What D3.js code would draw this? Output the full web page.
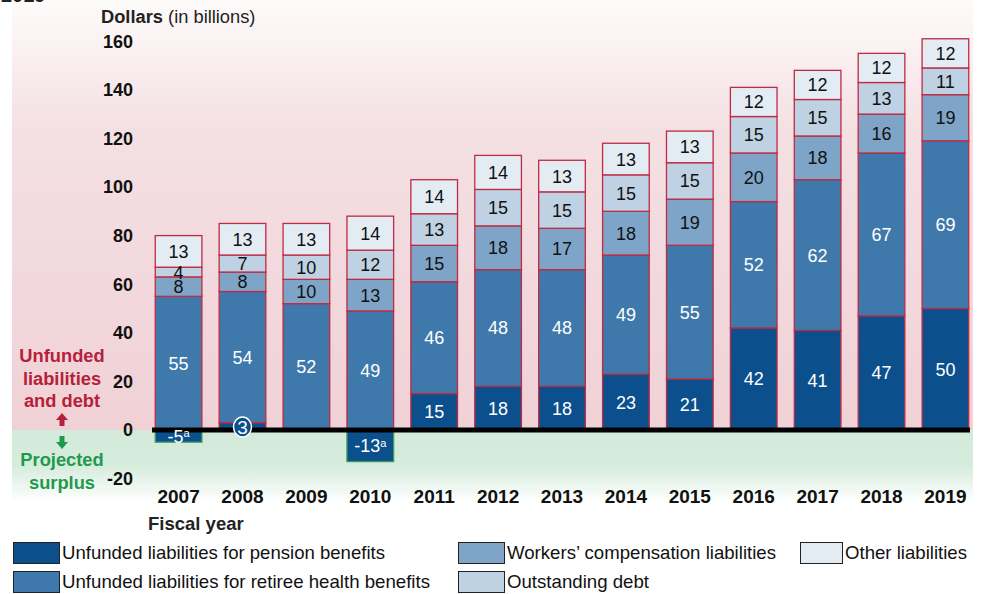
<!DOCTYPE html>
<html>
<head>
<meta charset="utf-8" />
<title>Unfunded liabilities and debt</title>
<script src="https://d3js.org/d3.v7.min.js"></script>
<style>
  body { margin: 0; background: #fff; }
  svg { display: block; font-family: "Liberation Sans", Arial, sans-serif; }
</style>
</head>
<body>
<svg></svg>
<script>
// data (billions of dollars)
const years = [2007, 2008, 2009, 2010, 2011, 2012, 2013, 2014, 2015, 2016, 2017, 2018, 2019]
const pension = [-5, 3, 0, -13, 15, 18, 18, 23, 21, 42, 41, 47, 50]
const health = [55, 54, 52, 49, 46, 48, 48, 49, 55, 52, 62, 67, 69]
const workers = [8, 8, 10, 13, 15, 18, 17, 18, 19, 20, 18, 16, 19]
const debt = [4, 7, 10, 12, 13, 15, 15, 15, 15, 15, 15, 13, 11]
const other = [13, 13, 13, 14, 14, 14, 13, 13, 13, 12, 12, 12, 12]
const yTicks = [-20, 0, 20, 40, 60, 80, 100, 120, 140, 160]

const seriesNames = ['Unfunded liabilities for pension benefits',
  'Unfunded liabilities for retiree health benefits',
  'Workers\u2019 compensation liabilities',
  'Outstanding debt',
  'Other liabilities']
const colors = ['#0b4f8c', '#3f79ac', '#7ea5c8', '#bed2e3', '#e3ebf3']
const textColors = ['#fff', '#fff', '#111', '#111', '#111']
const series = [pension, health, workers, debt, other]

const W = 984, H = 594
const svg = d3.select('svg').attr('width', W).attr('height', H)

const y = d3.scaleLinear().domain([-20, 160]).range([478.6, 41.2])
const x = d3.scaleBand().domain(years).range([138, 986]).padding(0.27)

// background gradients
const defs = svg.append('defs')
const pink = defs.append('linearGradient').attr('id', 'pink').attr('x1', 0).attr('x2', 0).attr('y1', 0).attr('y2', 1)
pink.append('stop').attr('offset', 0).attr('stop-color', '#fefbfb')
pink.append('stop').attr('offset', 0.3).attr('stop-color', '#f4e0e3')
pink.append('stop').attr('offset', 1).attr('stop-color', '#f0d1d6')
const green = defs.append('linearGradient').attr('id', 'green').attr('x1', 0).attr('x2', 0).attr('y1', 0).attr('y2', 1)
green.append('stop').attr('offset', 0).attr('stop-color', '#d3eadb')
green.append('stop').attr('offset', 0.5).attr('stop-color', '#d6ecdd')
green.append('stop').attr('offset', 1).attr('stop-color', '#ffffff')

svg.append('rect').attr('x', 12).attr('y', 0).attr('width', 961).attr('height', y(0))
  .attr('fill', 'url(#pink)')
svg.append('rect').attr('x', 12).attr('y', y(0)).attr('width', 961).attr('height', 502 - y(0))
  .attr('fill', 'url(#green)')

// leftover of the title above the crop
svg.append('text').attr('x', 1).attr('y', 2).attr('font-size', 20).attr('font-weight', 'bold')
  .attr('fill', '#222').text('2019')

// y axis title and tick labels
const yt = svg.append('text').attr('x', 101).attr('y', 23).attr('font-size', 18.3).attr('fill', '#222')
yt.append('tspan').attr('font-weight', 'bold').text('Dollars')
yt.append('tspan').text(' (in billions)')

svg.append('g').selectAll('text').data(yTicks).join('text')
  .attr('x', 133).attr('y', d => y(d)).attr('dy', '0.36em')
  .attr('text-anchor', 'end').attr('font-size', 18).attr('font-weight', 'bold').attr('fill', '#111')
  .text(d => d)

// stacked segments
const segs = []
years.forEach((yr, i) => {
  let base = 0
  series.forEach((s, k) => {
    const v = s[i]
    if (v === 0) return
    if (v < 0) {
      segs.push({yr, k, v, y0: v, y1: 0, neg: true})
    } else {
      segs.push({yr, k, v, y0: base, y1: base + v, neg: false})
      base += v
    }
  })
})

const bars = svg.append('g')
bars.selectAll('rect').data(segs).join('rect')
  .attr('x', d => x(d.yr))
  .attr('width', x.bandwidth())
  .attr('y', d => y(d.y1))
  .attr('height', d => y(d.y0) - y(d.y1))
  .attr('fill', d => colors[d.k])
  .attr('stroke', d => d.neg ? '#3a9d5a' : '#c02a42')
  .attr('stroke-width', 1.3)

// zero line
svg.append('rect').attr('x', 152).attr('y', y(0) - 2.5).attr('width', 818).attr('height', 5).attr('fill', '#000')

// labels
const lab = svg.append('g').attr('font-size', 18).attr('text-anchor', 'middle')
segs.filter(d => !(d.k === 0 && d.v > 0 && d.v < 5)).forEach(d => {
  const t = lab.append('text')
    .attr('x', x(d.yr) + x.bandwidth() / 2)
    .attr('y', y((d.y0 + d.y1) / 2)).attr('dy', '0.36em')
    .attr('fill', textColors[d.k])
  if (d.neg) {
    t.append('tspan').text(d.v)
    t.append('tspan').attr('font-size', 11).attr('dy', '-0.5em').text('a')
  } else {
    t.text(d.v)
  }
})
// small pension value shown in a badge on the zero line
segs.filter(d => d.k === 0 && d.v > 0 && d.v < 5).forEach(d => {
  const cx = x(d.yr) + x.bandwidth() / 2
  lab.append('ellipse').attr('cx', cx).attr('cy', y(0) - 3).attr('rx', 9).attr('ry', 10)
    .attr('fill', colors[0]).attr('stroke', '#fff').attr('stroke-width', 1.5)
  lab.append('text').attr('x', cx).attr('y', y(0) - 3).attr('dy', '0.36em')
    .attr('fill', '#fff').attr('font-size', 19).text(d.v)
})

// x axis labels
svg.append('g').selectAll('text').data(years).join('text')
  .attr('x', d => x(d) + x.bandwidth() / 2).attr('y', 503)
  .attr('text-anchor', 'middle').attr('font-size', 19).attr('font-weight', 'bold').attr('fill', '#111')
  .text(d => d)
svg.append('text').attr('x', 148).attr('y', 530).attr('font-size', 18.5).attr('font-weight', 'bold')
  .attr('fill', '#222').text('Fiscal year')

// side annotation
const red = '#b5213a', grn = '#1f9a4c'
const ann = svg.append('g').attr('text-anchor', 'middle').attr('font-weight', 'bold').attr('font-size', 18.3)
;['Unfunded', 'liabilities', 'and debt'].forEach((s, i) => {
  ann.append('text').attr('x', 62).attr('y', 362 + i * 22.5).attr('fill', red).text(s)
})
;['Projected', 'surplus'].forEach((s, i) => {
  ann.append('text').attr('x', 62).attr('y', 466 + i * 22.5).attr('fill', grn).text(s)
})
ann.append('path').attr('d', 'M62,413 L68,420 L64.5,420 L64.5,426 L59.5,426 L59.5,420 L56,420 Z').attr('fill', red)
ann.append('path').attr('d', 'M62,449 L68,442 L64.5,442 L64.5,436 L59.5,436 L59.5,442 L56,442 Z').attr('fill', grn)

// legend (narrow face in the original, so widths are fitted)
const legendPos = [[13, 542], [13, 571], [458, 542], [458, 571], [800, 542]]
const legendLen = [323, 368, 269, 142, 122]
const lg = svg.append('g')
seriesNames.forEach((name, k) => {
  const [lx, ly] = legendPos[k]
  const sw = k === 4 ? 42 : 46
  lg.append('rect').attr('x', lx + 0.5).attr('y', ly + 0.5).attr('width', sw).attr('height', 21)
    .attr('fill', colors[k]).attr('stroke', '#222').attr('stroke-width', 1)
  lg.append('text').attr('x', lx + sw + 3).attr('y', ly + 17)
    .attr('font-size', 18.5).attr('fill', '#111')
    .attr('textLength', legendLen[k]).attr('lengthAdjust', 'spacingAndGlyphs')
    .text(name)
})
</script>
</body>
</html>
